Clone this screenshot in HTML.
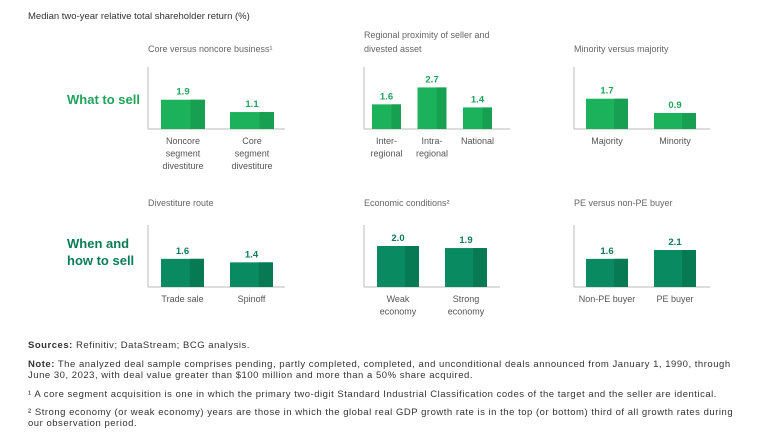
<!DOCTYPE html>
<html><head><meta charset="utf-8"><style>
body{margin:0;background:#fff;width:768px;height:447px;overflow:hidden;font-family:"Liberation Sans",sans-serif}
svg{position:absolute;left:0;top:0}
.fn{position:absolute;left:28px;width:730px;font-size:9.5px;letter-spacing:0.52px;color:#333;line-height:11px;white-space:nowrap}
</style></head><body>
<svg id="c" width="768" height="447">
<text x="28" y="19" font-size="9.5" fill="#333">Median two-year relative total shareholder return (%)</text>
<text x="67" y="104" font-size="13" font-weight="bold" fill="#20a35a">What to sell</text>
<text x="67" y="248" font-size="13" font-weight="bold" fill="#0b7c55">When and</text>
<text x="67" y="265" font-size="13" font-weight="bold" fill="#0b7c55">how to sell</text>
</svg>
<div class="fn" style="top:340px;font-weight:bold">Sources: <span style="font-weight:normal">Refinitiv; DataStream; BCG analysis.</span></div>
<div class="fn" style="top:359px"><b>Note:</b> The analyzed deal sample comprises pending, partly completed, completed, and unconditional deals announced from January 1, 1990, through<br>June 30, 2023, with deal value greater than $100 million and more than a 50% share acquired.</div>
<div class="fn" style="top:389px">¹ A core segment acquisition is one in which the primary two-digit Standard Industrial Classification codes of the target and the seller are identical.</div>
<div class="fn" style="top:407px">² Strong economy (or weak economy) years are those in which the global real GDP growth rate is in the top (or bottom) third of all growth rates during<br>our observation period.</div>
<script>
const titles=[["Core versus noncore business¹"],["Regional proximity of seller and","divested asset"],["Minority versus majority"],["Divestiture route"],["Economic conditions²"],["PE versus non-PE buyer"]];
const categories=[[["Noncore","segment","divestiture"],["Core","segment","divestiture"]],[["Inter-","regional"],["Intra-","regional"],["National"]],[["Majority"],["Minority"]],[["Trade sale"],["Spinoff"]],[["Weak","economy"],["Strong","economy"]],[["Non-PE buyer"],["PE buyer"]]];
const values=[[1.9,1.1],[1.6,2.7,1.4],[1.7,0.9],[1.6,1.4],[2.0,1.9],[1.6,2.1]];
const labels=[["1.9","1.1"],["1.6","2.7","1.4"],["1.7","0.9"],["1.6","1.4"],["2.0","1.9"],["1.6","2.1"]];
const svg=document.getElementById('c');const NS="http://www.w3.org/2000/svg";
function mk(t,a,p){const e=document.createElementNS(NS,t);for(const k in a)e.setAttribute(k,a[k]);(p||svg).appendChild(e);return e;}
const layout=[{ax:148,end:285,base:129,sc:15.4,x0:161,w:44,gap:69},{ax:364,end:510,base:129,sc:15.4,x0:372,w:29,gap:45.5},{ax:574,end:710,base:129,sc:17.8,x0:586,w:42,gap:68},{ax:148,end:285,base:287,sc:17.6,x0:161,w:43,gap:69},{ax:364,end:500,base:287,sc:20.5,x0:377,w:42,gap:68},{ax:574,end:710,base:287,sc:17.6,x0:586,w:42,gap:68}];
layout.forEach((L,i)=>{
 const top=i<3;const c1=top?"#1cb25b":"#0a8a60",c2=top?"#17a052":"#077a53",tc=top?"#20a35a":"#0b7c55";
 const g=mk('g',{});
 const tt=titles[i];const ty=L.base-(top?77:81);
 tt.forEach((s,j)=>{const t=mk('text',{x:L.ax,y:ty-(tt.length-1-j)*14,'font-size':9,fill:'#666'},g);t.textContent=s;});
 const yl=mk('line',{x1:L.ax,x2:L.ax,y1:L.base-62,y2:L.base,stroke:'#bbb','stroke-width':1},g);
 const xl=mk('line',{x1:L.ax,x2:L.end,y1:L.base,y2:L.base,stroke:'#bbb','stroke-width':1},g);
 values[i].forEach((v,k)=>{
  const x=L.x0+k*L.gap,h=v*L.sc,y=L.base-h;
  const r=mk('rect',{x:x,y:y,width:L.w,height:h,fill:c1},g);
  mk('rect',{x:x+L.w*0.67,y:y,width:L.w*0.33,height:h,fill:c2},g);
  const vt=mk('text',{x:x+L.w/2,y:y-5,'font-size':9.5,'font-weight':'bold',fill:tc,'text-anchor':'middle'},g);vt.textContent=labels[i][k];
  
  categories[i][k].forEach((s,j)=>{const t=mk('text',{x:x+L.w/2,y:L.base+15+j*12.5,'font-size':9,fill:'#555','text-anchor':'middle'},g);t.textContent=s;
   });
 });
});
</script>
</body></html>
